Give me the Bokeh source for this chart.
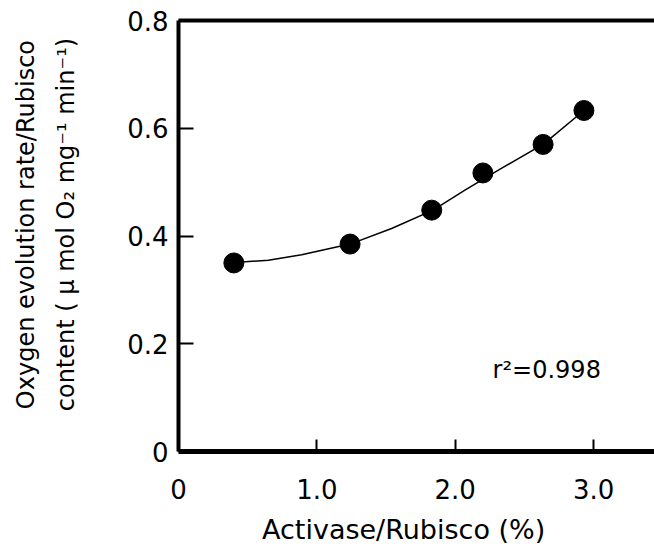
from bokeh.plotting import figure
from bokeh.models import (LinearAxis, FixedTicker, CustomJSTickFormatter, Label, Range1d)
from bokeh.embed import file_html
from bokeh.resources import INLINE

# ---- data ----
activase = [0.40, 1.24, 1.83, 2.20, 2.635, 2.93]
oxygen = [0.350, 0.385, 0.448, 0.517, 0.570, 0.633]

fit_x = [0.40, 0.65, 0.89, 1.24, 1.54, 1.84, 2.07, 2.33, 2.64, 2.93]
fit_y = [0.351, 0.355, 0.365, 0.385, 0.414, 0.448, 0.485, 0.525, 0.571, 0.633]

x_ticks = [0, 1, 2, 3]
y_ticks = [0, 0.2, 0.4, 0.6, 0.8]

x_title = "Activase/Rubisco (%)"
y_title_1 = "Oxygen evolution rate/Rubisco"
y_title_2 = "content ( \u03bc mol O\u2082 mg\u207b\u00b9 min\u207b\u00b9)"
r2_text = "r\u00b2=0.998"

FONT = "DejaVu Sans"
NB = "\u00a0"

p = figure(width=654, height=547, output_backend="svg", toolbar_location=None,
           x_range=Range1d(0, 3.44), y_range=Range1d(0, 0.8),
           min_border_left=178, min_border_right=0, min_border_top=20, min_border_bottom=95)
p.outline_line_color = None
p.background_fill_color = "white"
p.border_fill_color = "white"
p.xgrid.visible = False
p.ygrid.visible = False

fmt = CustomJSTickFormatter(code="return tick == 0 ? '0' : tick.toFixed(1);")

xaxis = p.xaxis[0]
yaxis = p.yaxis[0]
xaxis.ticker = FixedTicker(ticks=x_ticks)
yaxis.ticker = FixedTicker(ticks=y_ticks)
xaxis.formatter = fmt
yaxis.formatter = fmt

for ax in (xaxis, yaxis):
    ax.axis_line_color = "black"
    ax.major_tick_out = 0
    ax.major_tick_line_width = 2
    ax.major_tick_line_color = "black"
    ax.minor_tick_line_color = None
    ax.major_label_text_font = FONT
    ax.major_label_text_font_size = "26px"
    ax.major_label_text_color = "black"
    ax.axis_label_text_font = FONT
    ax.axis_label_text_font_style = "normal"
    ax.axis_label_text_color = "black"
xaxis.major_tick_in = 12
yaxis.major_tick_in = 15
xaxis.axis_line_width = 5
yaxis.axis_line_width = 4
xaxis.major_label_standoff = 27
yaxis.major_label_standoff = 10

xaxis.axis_label = x_title + NB * 3
xaxis.axis_label_text_font_size = "27px"
xaxis.axis_label_standoff = 12

yaxis.axis_label = NB * 3 + y_title_1 + "\n" + NB * 3 + y_title_2
yaxis.axis_label_text_font_size = "24px"
yaxis.axis_label_text_line_height = 1.43
yaxis.axis_label_standoff = 44

top = LinearAxis(ticker=FixedTicker(ticks=[]), major_label_text_font_size="0px")
top.axis_line_width = 4
top.axis_line_color = "black"
top.major_tick_line_color = None
top.minor_tick_line_color = None
p.add_layout(top, "above")

p.line(fit_x, fit_y, line_color="black", line_width=1.5)
p.scatter(activase, oxygen, size=20, fill_color="black", line_color="black")

p.add_layout(Label(x=2.27, y=0.152, text=r2_text,
                   text_align="left", text_baseline="middle",
                   text_font=FONT, text_font_size="24px", text_color="black"))

open("out.html", "w").write(file_html(p, INLINE))
